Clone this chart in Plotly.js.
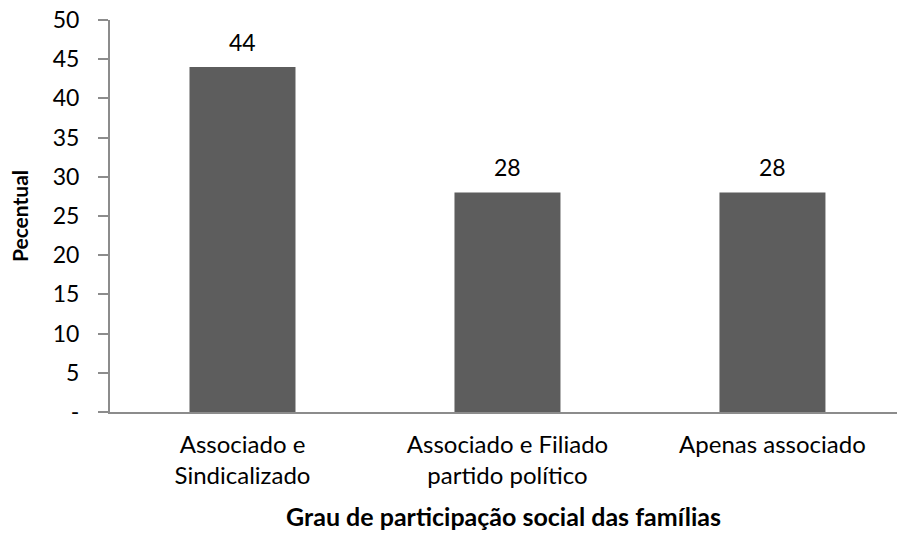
<!DOCTYPE html>
<html><head><meta charset="utf-8">
<script src="https://cdn.plot.ly/plotly-3.0.1.min.js"></script>
<style>body{margin:0;background:#fff}#c{width:897px;height:536px}</style>
</head><body><div id="c"></div>
<script>
const categories = ["Associado e<br>Sindicalizado", "Associado e Filiado<br>partido político", "Apenas associado"];
const values = [44, 28, 28];
const yTickVals = [0, 5, 10, 15, 20, 25, 30, 35, 40, 45, 50];
const yTickText = ["-", "5", "10", "15", "20", "25", "30", "35", "40", "45", "50"];

const font = "Lato, 'Open Sans', sans-serif";
const xs = values.map((v, i) => i);
Plotly.newPlot('c', [{
  type: 'bar',
  x: xs,
  y: values,
  marker: {color: '#5d5d5d'},
  hoverinfo: 'none'
}], {
  width: 897, height: 536,
  margin: {l: 110, r: 0, t: 20, b: 124},
  paper_bgcolor: '#fff', plot_bgcolor: '#fff',
  bargap: 0.6,
  showlegend: false,
  font: {family: font, size: 23, color: '#000'},
  annotations: values.map((v, i) => ({
    x: i, y: v, xref: 'x', yref: 'y', text: String(v), showarrow: false,
    yanchor: 'bottom', yshift: 9, font: {family: font, size: 23, color: '#000'}
  })),
  xaxis: {
    range: [-0.5, 2.47],
    tickvals: xs,
    ticktext: categories,
    showgrid: false, zeroline: false,
    showline: true, linecolor: '#8c8c8c', linewidth: 2,
    ticks: '',
    ticklabelstandoff: 10,
    tickfont: {family: font, size: 24},
    automargin: false,
    title: {text: '<b>Grau de participação social das famílias</b>', font: {family: font, size: 25}, standoff: 20}
  },
  yaxis: {
    range: [0, 50],
    tickvals: yTickVals,
    ticktext: yTickText,
    showgrid: false, zeroline: false,
    showline: true, linecolor: '#8c8c8c', linewidth: 2,
    ticks: 'outside', ticklen: 10, tickcolor: '#8c8c8c', tickwidth: 2,
    ticklabelstandoff: 14,
    tickfont: {family: font, size: 23},
    automargin: false,
    title: {text: '<b>Pecentual</b>', font: {family: font, size: 21}, standoff: 18}
  }
}, {displayModeBar: false, staticPlot: true});
</script></body></html>
